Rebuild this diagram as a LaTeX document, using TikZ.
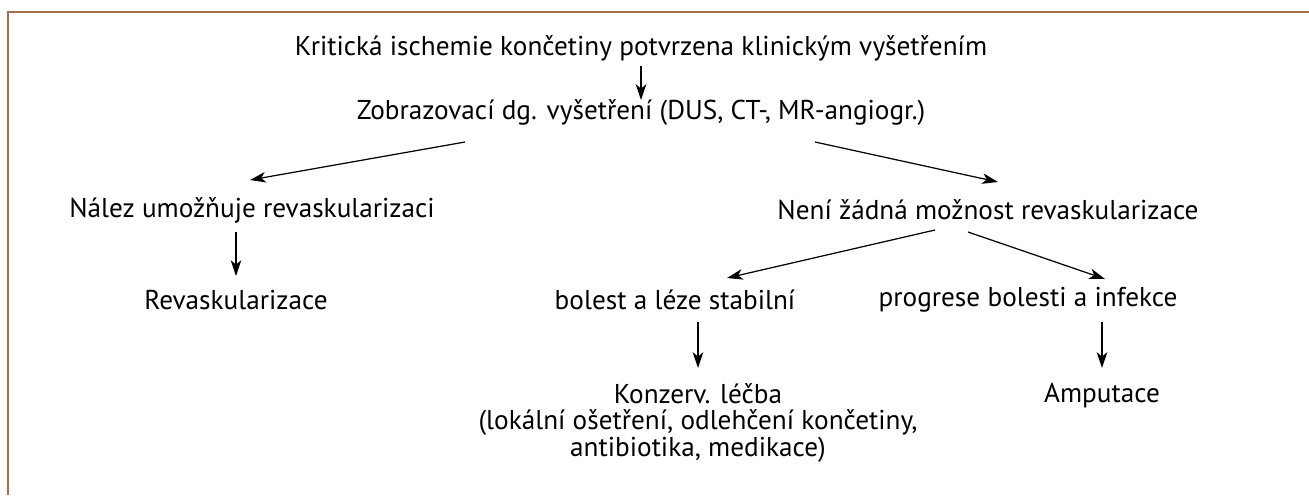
\documentclass[tikz,border=0pt]{standalone}
\usepackage{fontspec}
\setmainfont{PT Sans}
\usetikzlibrary{positioning,calc,arrows.meta}
\definecolor{ramec}{RGB}{166,112,80}

\begin{document}
\begin{tikzpicture}[x=0.02cm,y=-0.02cm,
		txt/.style={inner sep=1pt, font=\fontsize{15.5}{14.4}\selectfont, align=center},
		sipka/.style={-{Stealth[length=9pt,width=6pt,inset=2.5pt]}, line width=0.7pt}]
		\useasboundingbox (0,0) rectangle (1309,495);
		\draw[ramec, line width=1.2pt] (8,495) -- (8,12) -- (1309,12);
		% uzly
		\node[txt] (krit) at (641,48) {Kritická ischemie končetiny potvrzena klinickým vyšetřením};
		\node[txt] (zobr) at (641,113) {Zobrazovací dg. vyšetření (DUS, CT-, MR-angiogr.)};
		\node[txt] (nalez) at (252,210) {Nález umožňuje revaskularizaci};
		\node[txt] (neni) at (988,210) {Není žádná možnost revaskularizace};
		\node[txt] (revask) at (236,300) {Revaskularizace};
		\node[txt] (bolest) at (675,300) {bolest a léze stabilní};
		\node[txt] (progr) at (1028,300) {progrese bolesti a infekce};
		\node[txt] (konz) at (698,423) {Konzerv. léčba\\(lokální ošetření, odlehčení končetiny,\\antibiotika, medikace)};
		\node[txt] (amput) at (1102,396) {Amputace};
		% sipky
		\draw[sipka] ($(krit.center)+(0,18)$) -- ($(zobr.center)+(0,-13)$);
		\draw[sipka] ($(zobr.center)+(-176,29)$) -- ($(nalez.center)+(-2,-30)$);
		\draw[sipka] ($(zobr.center)+(174,29)$) -- ($(neni.center)+(10,-28)$);
		\draw[sipka] ($(nalez.center -| revask.center)+(0,22)$) -- ($(revask.center)+(0,-24)$);
		\draw[sipka] ($(neni.center)+(-53,20)$) -- ($(bolest.center)+(52,-22)$);
		\draw[sipka] ($(neni.center)+(-20,22)$) -- ($(progr.center)+(77,-21)$);
		\draw[sipka] ($(bolest.center -| konz.center)+(0,22)$) -- ($(konz.center)+(0,-55)$);
		\draw[sipka] ($(progr.center -| amput.center)+(0,22)$) -- ($(amput.center)+(0,-28)$);
\end{tikzpicture}
\end{document}
